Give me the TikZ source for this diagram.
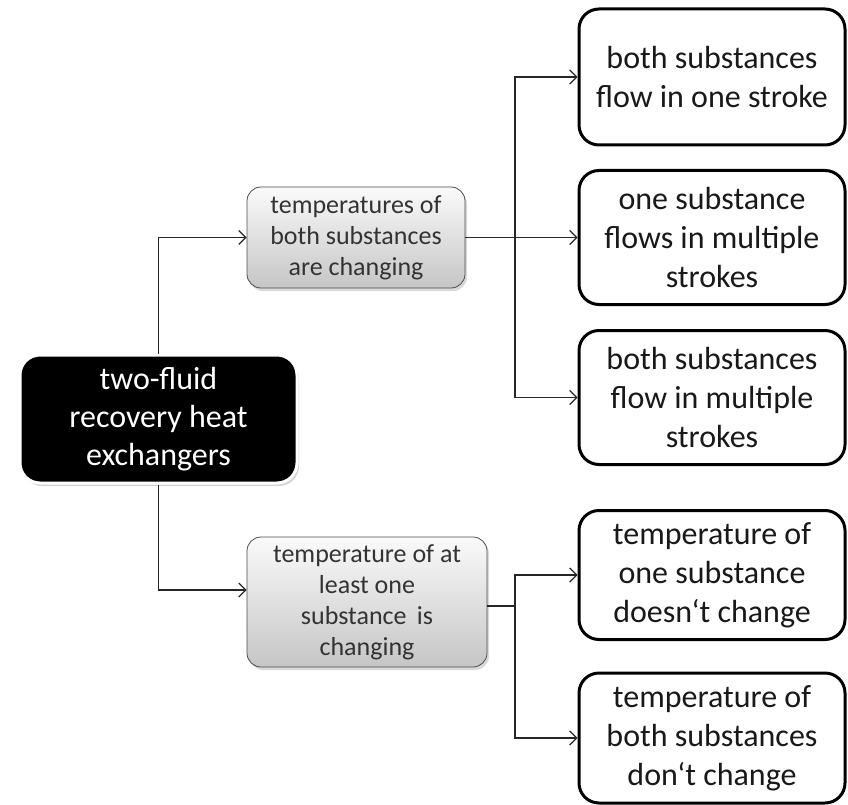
\documentclass[tikz,border=0pt]{standalone}
\usepackage{fontspec}
\setmainfont{Carlito}
\usetikzlibrary{shadows,arrows.meta}
\begin{document}
\begin{tikzpicture}[x=1pt, y=-1pt, >={Straight Barb[length=7pt,width=14pt]},
  rootbox/.style={rectangle, rounded corners=20pt, fill=black, draw=white, line width=3pt,
    text=white, align=center, inner sep=0pt, minimum width=277pt, minimum height=128pt,
    font=\fontsize{32}{38}\selectfont,
    drop shadow={opacity=0.35, shadow xshift=2pt, shadow yshift=-3pt}},
  midbox/.style={rectangle, rounded corners=14pt, top color=white!96!gray, bottom color=gray!45,
    draw=black!70, line width=0.8pt, text=black!80, align=center, inner sep=0pt,
    font=\fontsize{26}{31}\selectfont,
    drop shadow={opacity=0.3, shadow xshift=2pt, shadow yshift=-3pt}},
  leafbox/.style={rectangle, rounded corners=20pt, fill=white, draw=black, line width=3pt,
    text=black!90, align=center, inner sep=0pt, minimum width=266pt,
    font=\fontsize{32}{39}\selectfont},
  link/.style={line width=1.2pt, black!85}]
\useasboundingbox (0,0) rectangle (848,805);

% root
\node[rootbox] (root) at (158.5,419) {two-fluid\\recovery heat\\exchangers};

% middle level
\node[midbox, minimum width=218pt, minimum height=101pt] (both) at (356,237.5)
  {temperatures of\\both substances\\are changing};
\node[midbox, minimum width=240pt, minimum height=130pt] (least) at (367,602)
  {temperature of at\\least one\\substance\, is\\changing};

% leaves
\node[leafbox, minimum height=136pt] (oneStroke) at (712,77) {both substances\\flow in one stroke};
\node[leafbox, minimum height=134pt] (oneMulti) at (712,237.5) {one substance\\flows in multiple\\strokes};
\node[leafbox, minimum height=134pt] (bothMulti) at (712,397.5) {both substances\\flow in multiple\\strokes};
\node[leafbox, minimum height=129pt] (oneSame) at (712,575) {temperature of\\one substance\\doesn‘t change};
\node[leafbox, minimum height=130pt] (bothSame) at (712,738) {temperature of\\both substances\\don‘t change};

% connectors
\draw[link, ->] (root.north) |- (both.west);
\draw[link, ->] (root.south) |- ([yshift=12pt]least.west);

\coordinate (busA) at (515,237.5);
\draw[link] (both.east) -- (busA);
\draw[link, ->] (busA) |- (oneStroke.west);
\draw[link, ->] (busA) -- (oneMulti.west);
\draw[link, ->] (busA) |- (bothMulti.west);

\coordinate (busB) at (515,606);
\draw[link] ([yshift=-4pt]least.east) -- (busB);
\draw[link, ->] (busB) |- (oneSame.west);
\draw[link, ->] (busB) |- (bothSame.west);
\end{tikzpicture}
\end{document}
